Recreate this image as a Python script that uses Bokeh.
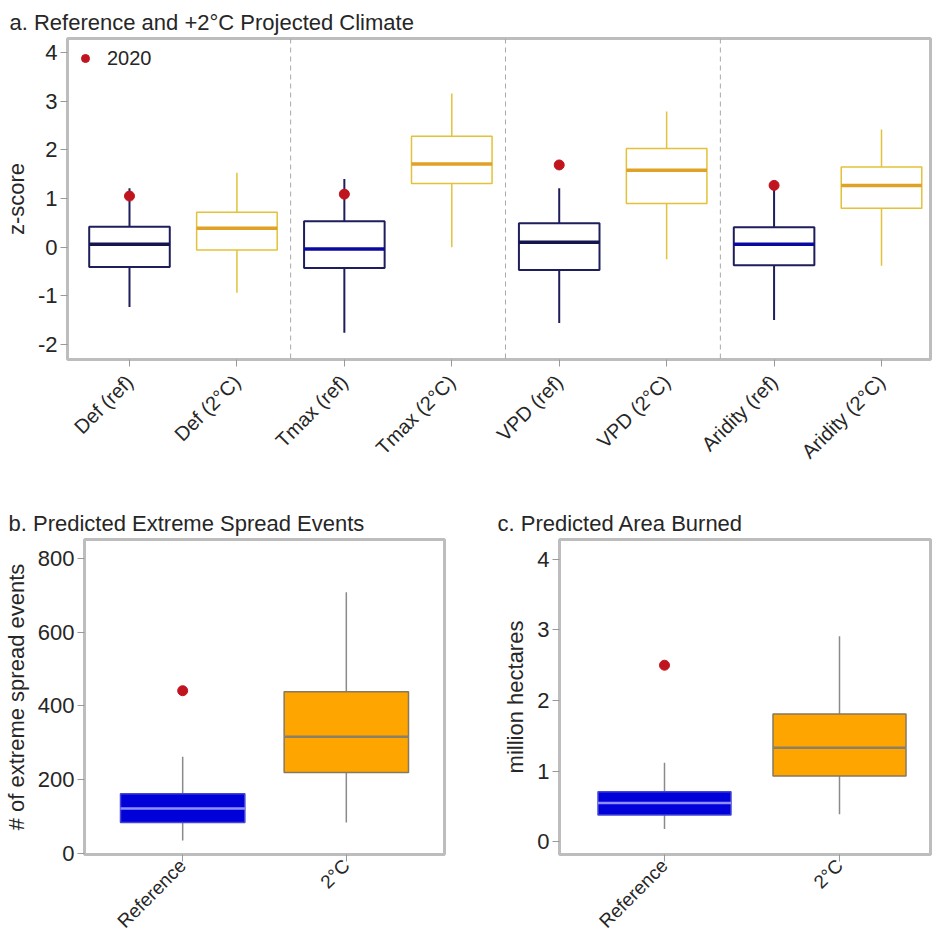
from bokeh.plotting import figure
from bokeh.models import Span, Legend, LegendItem, FixedTicker, Range1d, Title
from bokeh.layouts import column, row
from bokeh.embed import file_html
from bokeh.resources import INLINE
import math

# ---------------- data ----------------
a_categories = ["Def (ref)", "Def (2°C)", "Tmax (ref)", "Tmax (2°C)",
                "VPD (ref)", "VPD (2°C)", "Aridity (ref)", "Aridity (2°C)"]
a_lower = [-1.23, -0.94, -1.76, 0.00, -1.56, -0.25, -1.50, -0.38]
a_q1 = [-0.41, -0.06, -0.43, 1.31, -0.47, 0.90, -0.37, 0.80]
a_median = [0.06, 0.39, -0.04, 1.71, 0.10, 1.58, 0.06, 1.27]
a_q3 = [0.42, 0.72, 0.53, 2.28, 0.49, 2.03, 0.41, 1.65]
a_upper = [1.21, 1.53, 1.40, 3.16, 1.21, 2.79, 1.25, 2.42]
a_2020 = [1.05, None, 1.09, None, 1.69, None, 1.27, None]
a_yticks = [-2, -1, 0, 1, 2, 3, 4]

b_categories = ["Reference", "2°C"]
b_lower = [35, 84]
b_q1 = [84, 219]
b_median = [122, 316]
b_q3 = [162, 438]
b_upper = [262, 708]
b_2020 = [441, None]
b_yticks = [0, 200, 400, 600, 800]

c_categories = ["Reference", "2°C"]
c_lower = [0.18, 0.39]
c_q1 = [0.38, 0.93]
c_median = [0.55, 1.33]
c_q3 = [0.71, 1.81]
c_upper = [1.12, 2.91]
c_2020 = [2.50, None]
c_yticks = [0, 1, 2, 3, 4]

# ---------------- styles ----------------
FONT = "Liberation Sans"
FRAME = "#BDBDBD"
RED = "#C0151F"
TXT = "#262626"
REF_LINE = "#1E1E5C"
REF_MED = ["#14144E", "#0A0AA0"]
WARM_LINE = "#E3C23A"
WARM_MED = "#E0A127"


def style(p, ticks, labels, ylabel, xsize, xstand):
    p.outline_line_color = FRAME
    p.outline_line_width = 3
    p.xgrid.visible = False
    p.ygrid.visible = False
    p.background_fill_color = "white"
    p.border_fill_color = "white"
    for ax in (p.xaxis[0], p.yaxis[0]):
        ax.axis_line_color = None
        ax.major_tick_line_color = "#999999"
        ax.major_tick_in = 0
        ax.major_tick_out = 7
        ax.minor_tick_line_color = None
        ax.major_label_text_font = FONT
        ax.major_label_text_color = TXT
    p.yaxis[0].major_label_text_font_size = "22px"
    p.xaxis[0].major_label_text_font_size = xsize
    p.xaxis[0].ticker = FixedTicker(ticks=list(range(1, len(labels) + 1)))
    p.xaxis[0].major_label_overrides = {i + 1: lab for i, lab in enumerate(labels)}
    p.xaxis[0].major_label_orientation = math.pi / 4
    p.xaxis[0].major_label_standoff = xstand
    p.yaxis[0].ticker = FixedTicker(ticks=ticks)
    p.yaxis[0].major_label_overrides = {t: str(t) for t in ticks}
    p.yaxis[0].axis_label = ylabel
    p.yaxis[0].axis_label_text_font = FONT
    p.yaxis[0].axis_label_text_font_style = "normal"
    p.yaxis[0].axis_label_text_font_size = "22px"
    p.yaxis[0].axis_label_text_color = TXT
    p.yaxis[0].axis_label_standoff = 6
    p.yaxis[0].major_label_standoff = 3


def add_title(p, text, offset):
    t = Title(text=text, align="left", offset=offset, text_font=FONT,
              text_font_size="22px", text_font_style="normal",
              text_color=TXT, standoff=8)
    p.add_layout(t, "above")


# ---------------- panel a ----------------
pa = figure(width=932, height=495, output_backend="svg", toolbar_location=None,
            x_range=Range1d(0.423, 8.456), y_range=Range1d(-2.31, 4.29),
            min_border_left=67, min_border_right=2, min_border_top=38,
            min_border_bottom=136)
pa.title = None
style(pa, a_yticks, a_categories, "z-score", "20px", 12)
add_title(pa, "a. Reference and +2°C Projected Climate", -58)

for k in range(1, len(a_categories) // 2):
    pa.add_layout(Span(location=2 * k + 0.5, dimension="height",
                       line_color="#A8A8A8", line_dash="5 4", line_width=1))

bw = 0.75
for i in range(len(a_categories)):
    x = i + 1
    is_ref = (i % 2 == 0)
    lc = REF_LINE if is_ref else WARM_LINE
    mc = REF_MED[(i // 2) % 2] if is_ref else WARM_MED
    pa.segment(x0=[x, x], y0=[a_q3[i], a_q1[i]], x1=[x, x], y1=[a_upper[i], a_lower[i]],
               line_color=lc, line_width=2 if is_ref else 1.5)
    pa.vbar(x=[x], width=bw, top=[a_q3[i]], bottom=[a_q1[i]], fill_color="white",
            line_color=lc, line_width=2 if is_ref else 1.5)
    pa.segment(x0=[x - bw / 2], x1=[x + bw / 2], y0=[a_median[i]], y1=[a_median[i]],
               line_color=mc, line_width=3.5)

px = [i + 1 for i, v in enumerate(a_2020) if v is not None]
py = [v for v in a_2020 if v is not None]
pts = pa.scatter(x=px, y=py, size=10, color=RED)
leg = Legend(items=[LegendItem(label="2020", renderers=[pts])], location="top_left",
             border_line_color=None, background_fill_alpha=0, margin=8, padding=8,
             label_standoff=12, label_text_font=FONT, label_text_font_size="20px",
             label_text_color=TXT, glyph_width=20, glyph_height=24, label_height=24)
pa.add_layout(leg)


# ---------------- panels b & c ----------------
def small_panel(cats, lower, q1, med, q3, upper, pt, yr, xr, ticks, ylabel, title,
                width, bl, br, toff):
    p = figure(width=width, height=453, output_backend="svg", toolbar_location=None,
               x_range=Range1d(*xr), y_range=Range1d(*yr),
               min_border_left=bl, min_border_right=br, min_border_top=44,
               min_border_bottom=94)
    style(p, ticks, cats, ylabel, "19px", 1)
    add_title(p, title, toff)
    fills = ["#0000D8", "#FFA500"]
    lines = ["#4646D6", "#857A5E"]
    meds = ["#8F8FFF", "#8A7F6A"]
    w = 0.76
    for i in range(len(cats)):
        x = i + 1
        p.segment(x0=[x, x], y0=[q3[i], q1[i]], x1=[x, x], y1=[upper[i], lower[i]],
                  line_color="#8A8A8A", line_width=1.5)
        p.vbar(x=[x], width=w, top=[q3[i]], bottom=[q1[i]], fill_color=fills[i],
               line_color=lines[i], line_width=1.5)
        p.segment(x0=[x - w / 2], x1=[x + w / 2], y0=[med[i]], y1=[med[i]],
                  line_color=meds[i], line_width=2.5)
    qx = [i + 1 for i, v in enumerate(pt) if v is not None]
    qy = [v for v in pt if v is not None]
    p.scatter(x=qx, y=qy, size=10, color=RED)
    return p


pb = small_panel(b_categories, b_lower, b_q1, b_median, b_q3, b_upper, b_2020,
                 (-3, 851), (0.4, 2.6), b_yticks, "# of extreme spread events",
                 "b. Predicted Extreme Spread Events", 470, 84, 26, -76)
pc = small_panel(c_categories, c_lower, c_q1, c_median, c_q3, c_upper, c_2020,
                 (-0.18, 4.28), (0.4, 2.52), c_yticks, "million hectares",
                 "c. Predicted Area Burned", 462, 89, 2, -62)

layout = column(pa, row(pb, pc))
open("out.html", "w").write(file_html(layout, INLINE))
